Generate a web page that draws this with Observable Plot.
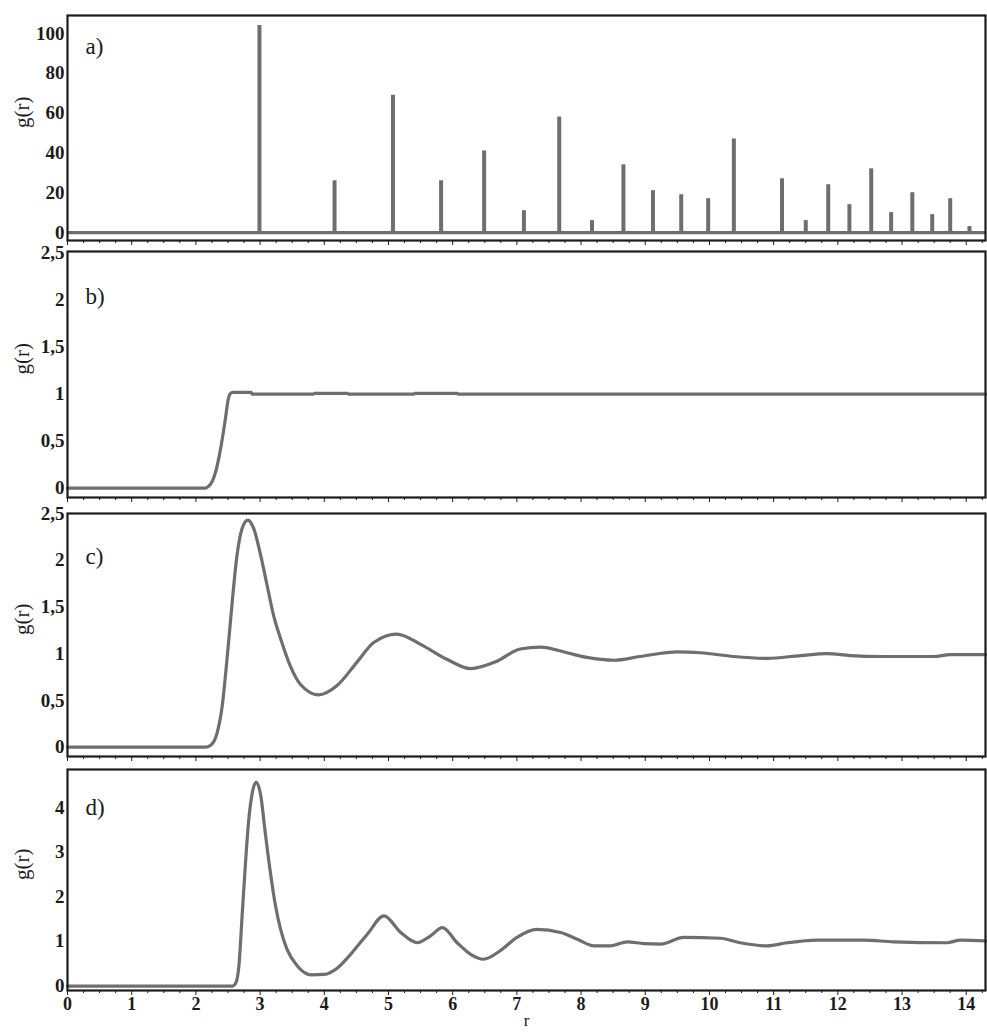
<!DOCTYPE html>
<html>
<head>
<meta charset="utf-8">
<script src="https://cdn.jsdelivr.net/npm/d3@7"></script>
<script src="https://cdn.jsdelivr.net/npm/@observablehq/plot@0.6"></script>
<style>
  html, body { margin: 0; padding: 0; background: #fff; }
  #chart { width: 987px; }
  #chart svg { display: block; }
</style>
</head>
<body>
<div id="chart"></div>
<script>
// Radial distribution function g(r) for four states of matter, stacked panels.

// Shared r axis ticks
const rMajorTicks = [0, 1, 2, 3, 4, 5, 6, 7, 8, 9, 10, 11, 12, 13, 14];
const rMinorTicks = d3.range(0, 14.3, 0.25).filter(t => t % 1 !== 0);

// g(r) ticks per panel
const gTicksA = [0, 20, 40, 60, 80, 100];
const gTicksB = [0, 0.5, 1, 1.5, 2, 2.5];
const gTicksC = [0, 0.5, 1, 1.5, 2, 2.5];
const gTicksD = [0, 1, 2, 3, 4];

// a) crystal: sharp coordination-shell peaks
const crystalR = [2.99, 4.16, 5.07, 5.82, 6.49, 7.11, 7.66, 8.17, 8.66, 9.12, 9.56, 9.98,
                  10.38, 11.13, 11.50, 11.85, 12.18, 12.52, 12.83, 13.16, 13.47, 13.75, 14.05];
const crystalG = [104, 26, 69, 26, 41, 11, 58, 6, 34, 21, 19, 17,
                  47, 27, 6, 24, 14, 32, 10, 20, 9, 17, 3];

// b) gas
const gasR = [0, 2.15, 2.2, 2.26, 2.31, 2.36, 2.41, 2.46, 2.5, 2.53, 2.57, 2.86, 2.88,
              3.83, 3.85, 4.36, 4.38, 5.39, 5.41, 6.07, 6.09, 8.0, 9.5, 11, 12.5, 14.3];
const gasG = [0, 0, 0.02, 0.08, 0.18, 0.33, 0.52, 0.74, 0.93, 1.0, 1.02, 1.02, 1.0,
              1.0, 1.01, 1.01, 1.0, 1.0, 1.01, 1.01, 1.0, 1.0, 1.0, 1.0, 1.0, 1.0];

// c) liquid
const liquidR = [0, 2.15, 2.23, 2.33, 2.41, 2.49, 2.56, 2.64, 2.72, 2.81, 2.90, 3.01, 3.11,
                 3.21, 3.32, 3.47, 3.63, 3.91, 4.20, 4.51, 4.77, 5.13, 5.50, 5.91, 6.28,
                 6.69, 7.05, 7.37, 7.78, 8.09, 8.51, 8.92, 9.50, 9.86, 10.38, 10.90, 11.42,
                 11.83, 12.19, 12.71, 13.49, 13.75, 14.3];
const liquidG = [0, 0, 0.02, 0.15, 0.44, 0.98, 1.51, 2.05, 2.34, 2.43, 2.34, 2.05, 1.73,
                 1.41, 1.16, 0.87, 0.67, 0.56, 0.66, 0.91, 1.12, 1.21, 1.10, 0.94, 0.84,
                 0.92, 1.05, 1.07, 1.01, 0.96, 0.93, 0.97, 1.02, 1.01, 0.97, 0.95, 0.98,
                 1.0, 0.98, 0.97, 0.97, 0.99, 0.99];

// d) dense liquid
const denseR = [0, 2.57, 2.63, 2.67, 2.72, 2.77, 2.82, 2.88, 2.94, 3.01, 3.08, 3.16, 3.24,
                3.32, 3.42, 3.58, 3.80, 4.0, 4.2, 4.41, 4.67, 4.93, 5.19, 5.45, 5.65, 5.84,
                6.07, 6.28, 6.48, 6.74, 7.0, 7.31, 7.68, 7.94, 8.2, 8.46, 8.72, 8.98, 9.24,
                9.6, 10.17, 10.48, 10.9, 11.21, 11.68, 12.4, 12.87, 13.7, 13.91, 14.3];
const denseG = [0, 0, 0.1, 0.45, 1.57, 2.7, 3.67, 4.34, 4.57, 4.27, 3.44, 2.55, 1.8,
                1.27, 0.82, 0.45, 0.25, 0.26, 0.4, 0.71, 1.16, 1.57, 1.2, 0.97, 1.12, 1.31,
                0.97, 0.71, 0.6, 0.79, 1.09, 1.27, 1.2, 1.05, 0.9, 0.9, 0.99, 0.95, 0.94,
                1.09, 1.07, 0.97, 0.9, 0.97, 1.03, 1.03, 0.99, 0.97, 1.03, 1.01];

const SERIF = "Liberation Serif";
const INK = "#1b1b1b";
const CURVE = "#6e6e70";

const pairs = (rs, gs) => rs.map((r, i) => ({r, g: gs[i]}));
const comma = d => String(d).replace(".", ",");
const blank = () => "";
const tickFont = {fontFamily: SERIF, fontSize: 19, fontWeight: "bold"};
const labelFont = {fontFamily: SERIF, fontWeight: "normal"};

function panel(o) {
  return Plot.plot({
    width: 987,
    height: o.height,
    marginLeft: 67,
    marginRight: 2,
    marginTop: o.marginTop,
    marginBottom: o.marginBottom,
    style: {fontFamily: SERIF, color: INK, background: "#fff", overflow: "visible"},
    x: {domain: [0, 14.3]},
    y: {domain: o.yDomain},
    marks: [
      ...o.marks,
      Plot.frame({stroke: INK, strokeWidth: 2.2}),
      Plot.axisY(o.yTicks, {tickSize: 0, tickPadding: 3, tickFormat: comma, label: null, ...tickFont}),
      Plot.axisX(rMinorTicks, {tickSize: 3, tickFormat: blank, label: null}),
      Plot.axisX(rMajorTicks, {tickSize: 5, tickPadding: 2, tickFormat: o.xLabels ? d => d : blank, label: null, ...tickFont, fontSize: 18}),
      Plot.text([o.tag], {frameAnchor: "top-left", dx: 18, dy: o.tagDy, textAnchor: "start", lineAnchor: "middle", fontSize: 23, ...labelFont}),
      Plot.text(["g(r)"], {frameAnchor: "left", dx: -45, rotate: -90, fontSize: 21, ...labelFont}),
      ...(o.extra || [])
    ]
  });
}

const chart = document.getElementById("chart");

chart.append(panel({
  height: 246, marginTop: 15, marginBottom: 6,
  yDomain: [-4, 109], yTicks: gTicksA, tag: "a)", tagDy: 31,
  marks: [
    Plot.ruleY([0], {stroke: CURVE, strokeWidth: 3.2}),
    Plot.ruleX(pairs(crystalR, crystalG), {x: "r", y1: 0, y2: "g", stroke: CURVE, strokeWidth: 4})
  ]
}));

chart.append(panel({
  height: 256, marginTop: 5, marginBottom: 5,
  yDomain: [-0.1, 2.52], yTicks: gTicksB, tag: "b)", tagDy: 45,
  marks: [
    Plot.line(pairs(gasR, gasG), {x: "r", y: "g", stroke: CURVE, strokeWidth: 3.2, curve: "monotone-x"})
  ]
}));

chart.append(panel({
  height: 262, marginTop: 11, marginBottom: 8,
  yDomain: [-0.1, 2.5], yTicks: gTicksC, tag: "c)", tagDy: 43,
  marks: [
    Plot.line(pairs(liquidR, liquidG), {x: "r", y: "g", stroke: CURVE, strokeWidth: 3.2, curve: "monotone-x"})
  ]
}));

chart.append(panel({
  height: 271, marginTop: 5, marginBottom: 45,
  yDomain: [-0.1, 4.85], yTicks: gTicksD, tag: "d)", tagDy: 38, xLabels: true,
  marks: [
    Plot.line(pairs(denseR, denseG), {x: "r", y: "g", stroke: CURVE, strokeWidth: 3.2, curve: "monotone-x"})
  ],
  extra: [
    Plot.text(["r"], {frameAnchor: "bottom", dx: 0, dy: 35, fontSize: 17, ...labelFont})
  ]
}));
</script>
</body>
</html>
